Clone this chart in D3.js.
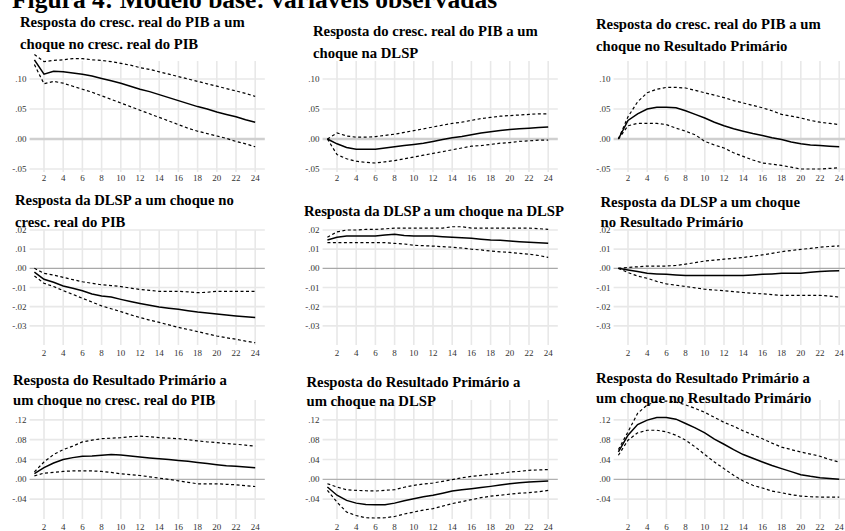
<!DOCTYPE html>
<html>
<head>
<meta charset="utf-8">
<script src="https://cdn.jsdelivr.net/npm/d3@7"></script>
<style>
  body { margin: 0; background: #fff; }
  svg { display: block; font-family: "Liberation Serif", "Times New Roman", serif; }
</style>
</head>
<body>
<svg id="chart" width="845" height="531"></svg>
<script>
// Horizon (periods after the shock)
const periods = [1,2,3,4,5,6,7,8,9,10,11,12,13,14,15,16,17,18,19,20,21,22,23,24];
const xTicks = [2,4,6,8,10,12,14,16,18,20,22,24];

// Y tick values per row of panels
const yTicksPib  = [0.10, 0.05, 0.00, -0.05];
const yTicksDlsp = [0.02, 0.01, 0.00, -0.01, -0.02, -0.03];
const yTicksRp   = [0.12, 0.08, 0.04, 0.00, -0.04];

// Response of GDP growth
const pibPibMid = [0.132,0.108,0.113,0.112,0.110,0.108,0.105,0.101,0.097,0.093,0.088,0.083,0.079,0.074,0.069,0.064,0.059,0.054,0.050,0.045,0.041,0.037,0.032,0.028];
const pibPibUp  = [0.141,0.129,0.131,0.132,0.134,0.134,0.132,0.131,0.129,0.126,0.123,0.119,0.116,0.112,0.108,0.104,0.100,0.096,0.092,0.088,0.084,0.080,0.076,0.071];
const pibPibLo  = [0.124,0.092,0.096,0.093,0.088,0.083,0.078,0.072,0.066,0.060,0.054,0.048,0.042,0.036,0.030,0.024,0.018,0.013,0.009,0.005,0.001,-0.004,-0.008,-0.013];

const pibDlspMid = [0,-0.008,-0.014,-0.017,-0.017,-0.017,-0.015,-0.013,-0.011,-0.009,-0.007,-0.004,-0.001,0.002,0.004,0.007,0.010,0.012,0.014,0.016,0.017,0.018,0.019,0.020];
const pibDlspUp  = [0,0.010,0.005,0.003,0.003,0.004,0.006,0.008,0.011,0.014,0.017,0.020,0.023,0.026,0.028,0.031,0.034,0.036,0.038,0.039,0.040,0.041,0.042,0.042];
const pibDlspLo  = [0,-0.026,-0.033,-0.037,-0.039,-0.040,-0.038,-0.036,-0.033,-0.030,-0.027,-0.024,-0.021,-0.018,-0.015,-0.012,-0.011,-0.009,-0.007,-0.006,-0.004,-0.003,-0.002,-0.002];

const pibRpMid = [0,0.031,0.042,0.050,0.053,0.053,0.052,0.047,0.041,0.035,0.028,0.022,0.017,0.013,0.009,0.006,0.002,-0.001,-0.005,-0.008,-0.010,-0.011,-0.012,-0.013];
const pibRpUp  = [0,0.037,0.062,0.077,0.083,0.086,0.086,0.085,0.081,0.077,0.073,0.069,0.064,0.060,0.056,0.052,0.047,0.041,0.038,0.035,0.031,0.028,0.026,0.024];
const pibRpLo  = [0,0.022,0.026,0.026,0.026,0.024,0.018,0.013,0.007,-0.004,-0.010,-0.015,-0.023,-0.029,-0.035,-0.040,-0.042,-0.044,-0.047,-0.050,-0.050,-0.050,-0.049,-0.048];

// Response of net public debt (DLSP)
const dlspPibMid = [-0.0020,-0.0057,-0.0073,-0.0092,-0.0104,-0.0117,-0.0134,-0.0144,-0.0150,-0.0162,-0.0173,-0.0183,-0.0193,-0.0202,-0.0208,-0.0214,-0.0221,-0.0228,-0.0233,-0.0238,-0.0244,-0.0249,-0.0253,-0.0256];
const dlspPibUp  = [0,-0.0026,-0.0035,-0.0047,-0.0059,-0.0070,-0.0078,-0.0086,-0.0090,-0.0095,-0.0103,-0.0110,-0.0115,-0.0120,-0.0120,-0.0120,-0.0123,-0.0127,-0.0125,-0.0120,-0.0120,-0.0120,-0.0120,-0.0120];
const dlspPibLo  = [-0.0040,-0.0078,-0.0095,-0.0116,-0.0136,-0.0156,-0.0176,-0.0196,-0.0211,-0.0226,-0.0242,-0.0257,-0.0270,-0.0282,-0.0295,-0.0308,-0.0319,-0.0330,-0.0342,-0.0353,-0.0362,-0.0370,-0.0380,-0.0388];

const dlspDlspMid = [0.0148,0.0162,0.0169,0.0169,0.0169,0.0169,0.0174,0.0178,0.0171,0.0169,0.0169,0.0169,0.0165,0.0162,0.0160,0.0157,0.0152,0.0148,0.0146,0.0143,0.0139,0.0136,0.0134,0.0131];
const dlspDlspUp  = [0.0162,0.0190,0.0200,0.0200,0.0203,0.0203,0.0206,0.0210,0.0210,0.0210,0.0210,0.0210,0.0210,0.0217,0.0217,0.0210,0.0210,0.0210,0.0210,0.0210,0.0210,0.0210,0.0207,0.0203];
const dlspDlspLo  = [0.0134,0.0134,0.0134,0.0134,0.0134,0.0134,0.0134,0.0130,0.0127,0.0120,0.0118,0.0116,0.0113,0.0110,0.0106,0.0100,0.0096,0.0090,0.0086,0.0083,0.0078,0.0074,0.0067,0.0057];

const dlspRpMid = [0,-0.0009,-0.0017,-0.0026,-0.0029,-0.0031,-0.0035,-0.0038,-0.0038,-0.0038,-0.0038,-0.0038,-0.0038,-0.0038,-0.0035,-0.0031,-0.0029,-0.0026,-0.0026,-0.0026,-0.0021,-0.0017,-0.0014,-0.0012];
const dlspRpUp  = [0,0.0005,0.0008,0.0012,0.0012,0.0012,0.0015,0.0022,0.0030,0.0038,0.0043,0.0048,0.0052,0.0057,0.0063,0.0070,0.0078,0.0087,0.0093,0.0099,0.0104,0.0110,0.0114,0.0117];
const dlspRpLo  = [0,-0.0022,-0.0040,-0.0052,-0.0068,-0.0081,-0.0088,-0.0095,-0.0102,-0.0109,-0.0113,-0.0117,-0.0122,-0.0126,-0.0130,-0.0133,-0.0137,-0.0141,-0.0141,-0.0141,-0.0141,-0.0141,-0.0145,-0.0150];

// Response of the primary balance
const rpPibMid = [0.0115,0.0236,0.0330,0.0398,0.0438,0.0465,0.0470,0.0486,0.0500,0.0490,0.0472,0.0452,0.0432,0.0415,0.0398,0.0380,0.0364,0.0340,0.0317,0.0296,0.0276,0.0263,0.0250,0.0236];
const rpPibUp  = [0.0150,0.0350,0.0500,0.0600,0.0670,0.0755,0.0790,0.0820,0.0830,0.0840,0.0860,0.0870,0.0860,0.0840,0.0830,0.0820,0.0800,0.0775,0.0755,0.0740,0.0720,0.0708,0.0690,0.0668];
const rpPibLo  = [0.0070,0.0125,0.0140,0.0160,0.0170,0.0170,0.0170,0.0160,0.0140,0.0110,0.0095,0.0077,0.0050,0.0024,0.0000,-0.0030,-0.0060,-0.0090,-0.0090,-0.0090,-0.0100,-0.0110,-0.0130,-0.0145];

const rpDlspMid = [-0.0155,-0.0320,-0.0425,-0.0480,-0.0506,-0.0512,-0.0512,-0.0480,-0.0430,-0.0390,-0.0350,-0.0320,-0.0280,-0.0236,-0.0210,-0.0189,-0.0165,-0.0142,-0.0115,-0.0088,-0.0070,-0.0054,-0.0044,-0.0034];
const rpDlspUp  = [-0.0088,-0.0155,-0.0210,-0.0223,-0.0230,-0.0236,-0.0220,-0.0210,-0.0160,-0.0121,-0.0095,-0.0074,-0.0040,-0.0007,0.0030,0.0060,0.0080,0.0101,0.0120,0.0148,0.0160,0.0182,0.0190,0.0196];
const rpDlspLo  = [-0.0223,-0.0460,-0.0660,-0.0730,-0.0775,-0.0780,-0.0775,-0.0750,-0.0700,-0.0660,-0.0620,-0.0590,-0.0540,-0.0490,-0.0450,-0.0410,-0.0370,-0.0340,-0.0320,-0.0300,-0.0280,-0.0270,-0.0250,-0.0223];

const rpRpMid = [0.0553,0.0890,0.1105,0.1194,0.1247,0.1247,0.1214,0.1126,0.1038,0.0937,0.0809,0.0708,0.0600,0.0500,0.0425,0.0351,0.0280,0.0216,0.0155,0.0094,0.0060,0.0034,0.0015,0.0000];
const rpRpUp  = [0.0600,0.0958,0.1330,0.1500,0.1570,0.1580,0.1560,0.1500,0.1430,0.1350,0.1250,0.1150,0.1070,0.0978,0.0900,0.0820,0.0730,0.0650,0.0600,0.0550,0.0510,0.0465,0.0400,0.0350];
const rpRpLo  = [0.0486,0.0790,0.0937,0.0990,0.0990,0.0958,0.0890,0.0790,0.0654,0.0500,0.0350,0.0216,0.0081,-0.0034,-0.0120,-0.0175,-0.0236,-0.0270,-0.0310,-0.0337,-0.0350,-0.0357,-0.0357,-0.0357];

// Panel titles (one or two lines each)
const titles = [
  ["Resposta do cresc. real do PIB a um", "choque no cresc. real do PIB"],
  ["Resposta do cresc. real do PIB a um", "choque na DLSP"],
  ["Resposta do cresc. real do PIB a um", "choque no Resultado Primário"],
  ["Resposta da DLSP a um choque no", "cresc. real do PIB"],
  ["Resposta da DLSP a um choque na DLSP"],
  ["Resposta da DLSP a um choque", "no Resultado Primário"],
  ["Resposta do Resultado Primário a", "um choque no cresc. real do PIB"],
  ["Resposta do Resultado Primário a", "um choque na DLSP"],
  ["Resposta do Resultado Primário a", "um choque no Resultado Primário"]
];

const series = [
  [pibPibMid, pibPibUp, pibPibLo], [pibDlspMid, pibDlspUp, pibDlspLo], [pibRpMid, pibRpUp, pibRpLo],
  [dlspPibMid, dlspPibUp, dlspPibLo], [dlspDlspMid, dlspDlspUp, dlspDlspLo], [dlspRpMid, dlspRpUp, dlspRpLo],
  [rpPibMid, rpPibUp, rpPibLo], [rpDlspMid, rpDlspUp, rpDlspLo], [rpRpMid, rpRpUp, rpRpLo]
];

// Layout: column x ranges, row y ranges
const colX = [[29.6, 264.8], [322.6, 557.8], [613.6, 848.8]];
const rows = [
  { domain: [-0.055, 0.13], range: [172, 61],  ticks: yTicksPib,  labelY: 181, zeroW: 2.6, zeroC: "#cfcfcf" },
  { domain: [-0.04, 0.02],  range: [345, 230], ticks: yTicksDlsp, labelY: 356, zeroW: 1.3, zeroC: "#a8a8a8" },
  { domain: [-0.08, 0.16],  range: [519, 400], ticks: yTicksRp,   labelY: 529.5, zeroW: 1.3, zeroC: "#b0b0b0" }
];
// Title anchor per panel: [x, first baseline, line gap]
const titlePos = [
  [20, 26.5, 22], [313, 36, 21.5], [596, 29, 21.5],
  [15, 205, 21.5], [304, 216, 21.5], [600.5, 206.5, 20.5],
  [13, 385, 20], [306.5, 386.5, 19], [596, 383.3, 20]
];

const fmt = v => {
  const s = d3.format(".2f")(Math.abs(v)).replace(/^0/, "");
  return (v < 0 ? "-" : "") + s;
};

const svg = d3.select("#chart");

// Figure heading
svg.append("text")
  .attr("x", 12).attr("y", 7.5)
  .attr("font-size", 25.5).attr("font-weight", "bold").attr("fill", "#000")
  .text("Figura 4: Modelo base: variáveis observadas");

series.forEach((s, i) => {
  const r = rows[Math.floor(i / 3)];
  const c = colX[i % 3];
  const x = d3.scaleLinear().domain([0.5, 25]).range(c);
  const y = d3.scaleLinear().domain(r.domain).range(r.range);
  const g = svg.append("g");

  // vertical grid
  g.selectAll(".vg").data(xTicks).join("line")
    .attr("x1", d => x(d)).attr("x2", d => x(d))
    .attr("y1", r.range[1]).attr("y2", r.range[0])
    .attr("stroke", "#e8e8e8").attr("stroke-width", 1.6);
  // horizontal grid
  g.selectAll(".hg").data(r.ticks.filter(t => t !== 0)).join("line")
    .attr("x1", c[0]).attr("x2", c[1])
    .attr("y1", d => y(d)).attr("y2", d => y(d))
    .attr("stroke", "#e8e8e8").attr("stroke-width", 1.6);
  // zero line
  g.append("line")
    .attr("x1", c[0]).attr("x2", c[1])
    .attr("y1", y(0)).attr("y2", y(0))
    .attr("stroke", r.zeroC).attr("stroke-width", r.zeroW);

  // y tick labels
  g.selectAll(".yl").data(r.ticks).join("text")
    .attr("x", c[0] - 3).attr("y", d => y(d))
    .attr("dy", "0.35em").attr("text-anchor", "end")
    .attr("font-size", 9).attr("fill", "#333")
    .text(fmt);
  // x tick labels
  g.selectAll(".xl").data(xTicks).join("text")
    .attr("x", d => x(d)).attr("y", r.labelY)
    .attr("text-anchor", "middle")
    .attr("font-size", 9).attr("fill", "#333")
    .text(d => d);

  const line = d3.line().x((d, k) => x(periods[k])).y(d => y(d));
  // confidence bands
  [s[1], s[2]].forEach(b => {
    g.append("path").datum(b).attr("d", line)
      .attr("fill", "none").attr("stroke", "#000")
      .attr("stroke-width", 1.2).attr("stroke-dasharray", "3,2.5");
  });
  // point response
  g.append("path").datum(s[0]).attr("d", line)
    .attr("fill", "none").attr("stroke", "#000").attr("stroke-width", 1.5);

  // title
  const tp = titlePos[i];
  titles[i].forEach((t, k) => {
    g.append("text")
      .attr("x", tp[0]).attr("y", tp[1] + k * tp[2])
      .attr("font-size", 14.7).attr("font-weight", "bold").attr("fill", "#000")
      .text(t);
  });
});
</script>
</body>
</html>
